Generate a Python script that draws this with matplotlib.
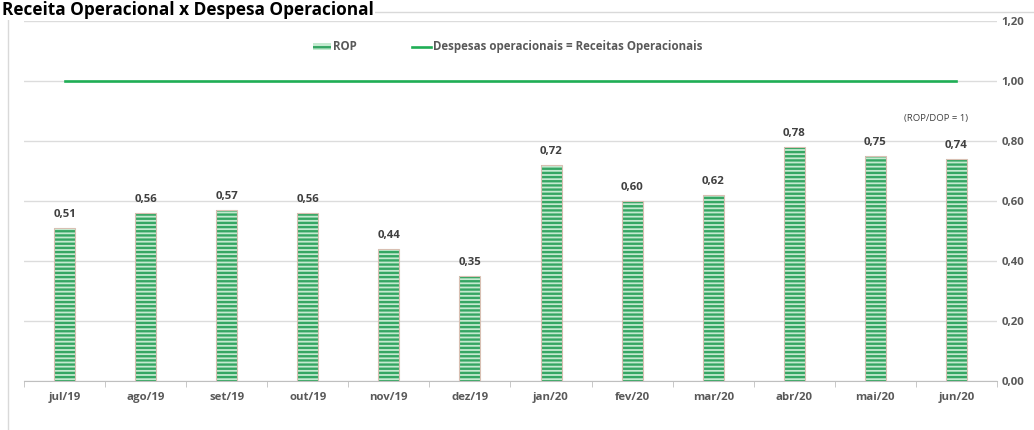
import matplotlib.pyplot as plt
from matplotlib.patches import Patch
from matplotlib.lines import Line2D

plt.rcParams['font.family'] = ['Open Sans', 'DejaVu Sans']
plt.rcParams['hatch.linewidth'] = 1.7

meses = ["jul/19", "ago/19", "set/19", "out/19", "nov/19", "dez/19",
         "jan/20", "fev/20", "mar/20", "abr/20", "mai/20", "jun/20"]
rop = [0.51, 0.56, 0.57, 0.56, 0.44, 0.35, 0.72, 0.60, 0.62, 0.78, 0.75, 0.74]
equilibrio = 1.0
yticks = [0.0, 0.2, 0.4, 0.6, 0.8, 1.0, 1.2]

W, H = 1034, 430
fig = plt.figure(figsize=(W / 100, H / 100), dpi=100)
ax = fig.add_axes([24 / W, 1 - 381 / H, 973 / W, 360 / H])

grey = '#595959'
green = '#1fae55'
face = '#c4ead0'
stripe = '#35a663'
x = list(range(len(meses)))

ax.bar(x, rop, width=0.26, color=face, edgecolor=stripe, hatch='----',
       linewidth=0, zorder=3)
ax.bar(x, rop, width=0.26, fill=False, edgecolor='#d8bfb2', linewidth=0.8, zorder=4)
for xi, v in zip(x, rop):
    ax.text(xi, v + 0.026, f"{v:.2f}".replace('.', ','), ha='center', va='bottom',
            fontsize=8.2, fontweight='bold', color='#404040')

ax.plot([x[0], x[-1]], [equilibrio, equilibrio], color=green, lw=1.9, zorder=3)
ax.text(10.75, 0.875, "(ROP/DOP = 1)", ha='center', va='center', fontsize=6.8, color='#404040')

ax.set_xlim(-0.5, 11.5)
ax.set_ylim(0, 1.2)
ax.set_yticks(yticks)
ax.set_yticklabels([f"{t:.2f}".replace('.', ',') for t in yticks])
ax.yaxis.tick_right()
ax.grid(axis='y', color='#dcdcdc', lw=1, zorder=0)
ax.set_axisbelow(True)
for s in ['top', 'left', 'right']:
    ax.spines[s].set_visible(False)
ax.spines['bottom'].set_color('#bfbfbf')
ax.tick_params(axis='y', length=0, pad=3, labelsize=8.2, labelcolor=grey)
ax.set_xticks(x)
ax.set_xticklabels(meses, fontsize=8.2, fontweight='bold', color=grey)
ax.set_xticks([i - 0.5 for i in range(len(meses) + 1)], minor=True)
ax.tick_params(axis='x', which='major', length=0, pad=8)
ax.tick_params(axis='x', which='minor', length=4, color='#bfbfbf', direction='out')
for lab in ax.get_yticklabels():
    lab.set_fontweight('bold')

handles = [Patch(facecolor=face, edgecolor=stripe, hatch='---', linewidth=0),
           Line2D([0], [0], color=green, lw=1.9)]
leg = ax.legend(handles, ["ROP", "Despesas operacionais = Receitas Operacionais"],
                loc='center', bbox_to_anchor=(0.497, 1 - (47 - 21) / 360), ncol=2,
                frameon=False, fontsize=8.3, handlelength=1.6, handleheight=0.5,
                handletextpad=0.2, columnspacing=4.8)
for t in leg.get_texts():
    t.set_color(grey)
    t.set_fontweight('bold')

# moldura do grafico
fig.add_artist(Line2D([8 / W, 8 / W], [0, 1 - 12 / H], color='#d9d9d9', lw=1, zorder=1))
fig.add_artist(Line2D([8 / W, 1], [1 - 12 / H, 1 - 12 / H], color='#d9d9d9', lw=1, zorder=1))

fig.text(2 / W, 1 - 1 / H, "Receita Operacional x Despesa Operacional", ha='left',
         va='top', fontsize=12.4, fontweight='bold', color='black', zorder=5,
         bbox=dict(facecolor='white', edgecolor='none', pad=0.5))

fig.savefig("out.png", dpi=100)
